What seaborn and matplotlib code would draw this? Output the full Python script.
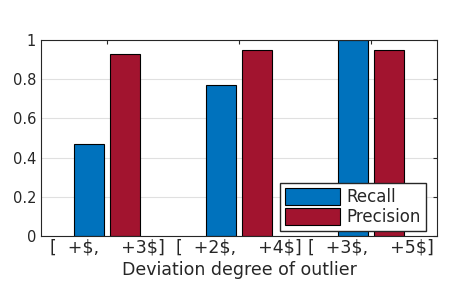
import matplotlib
matplotlib.use("Agg")
import matplotlib.pyplot as plt
import pandas as pd
import seaborn as sns

ranges = [r'[  +\$,    +3\$]', r'[  +2\$,    +4\$]', r'[  +3\$,    +5\$]']
recall = [0.47, 0.77, 1.0]
precision = [0.93, 0.95, 0.95]

df = pd.DataFrame({
    'range': ranges * 2,
    'value': recall + precision,
    'metric': ['Recall'] * 3 + ['Precision'] * 3,
})

sns.set_style('white')
plt.rcParams['font.family'] = ['DejaVu Sans']

fig = plt.figure(figsize=(4.51, 2.90), dpi=100)
ax = fig.add_axes([0.091, 0.186, 0.878, 0.676])

sns.barplot(data=df, x='range', y='value', hue='metric',
            palette=['#0072BD', '#A2142F'], saturation=1, width=0.54, gap=0.15,
            edgecolor='black', linewidth=0.8, ax=ax)

ax.set_xlim(-0.5, 2.5)
ax.set_ylim(0, 1)
ax.set_yticks([0, 0.2, 0.4, 0.6, 0.8, 1])
ax.set_yticklabels(['0', '0.2', '0.4', '0.6', '0.8', '1'])
ax.yaxis.grid(True, color='#e0e0e0', linewidth=0.8)
ax.set_axisbelow(True)
ax.tick_params(direction='in', top=True, right=True, length=3,
               labelsize=10.5, colors='#262626', labelcolor='#262626')
ax.tick_params(axis='x', labelsize=12.5, pad=2)
for s in ax.spines.values():
    s.set_color('#262626')
    s.set_linewidth(0.8)
ax.set_xlabel('Deviation degree of outlier', fontsize=12.5, color='#262626', labelpad=3)
ax.set_ylabel('')

ax.legend(loc='lower right', fontsize=12, frameon=True, fancybox=False,
          framealpha=1, edgecolor='#262626', handlelength=3.3, handleheight=1.2,
          borderpad=0.3, labelspacing=0.12, handletextpad=0.4,
          borderaxespad=0.3, bbox_to_anchor=(0.985, 0.0))

fig.savefig('out.png', dpi=100)
